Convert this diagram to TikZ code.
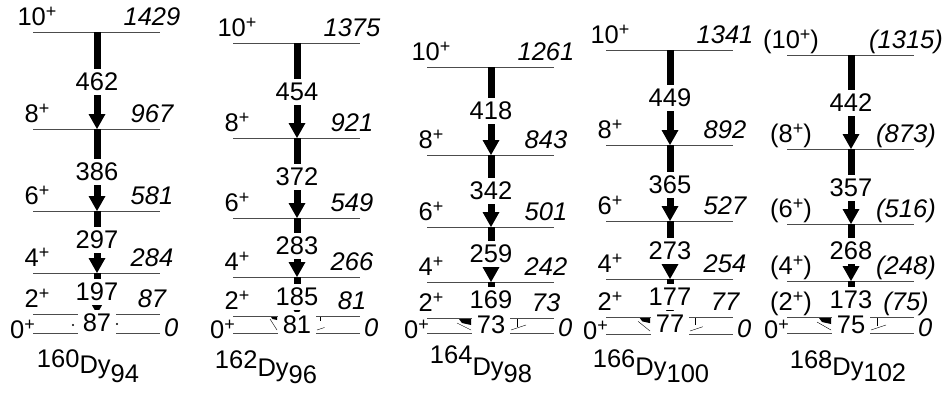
\documentclass[tikz,border=0pt]{standalone}
\usepackage{fontspec}
\setmainfont{Liberation Sans}
\usetikzlibrary{calc}

\newcommand\lblfont{\fontsize{25.5}{30}\selectfont}
% raised plus sign of the parity
\newcommand\plus{\raisebox{7.5pt}{\fontsize{18}{18}\selectfont +}}

% one excited level: id, left end x, y, spin, energy
\newcommand\levelline[5]{%
  \draw[level] (#2,#3) coordinate (#1-l) -- ++(127,0) coordinate (#1-r);
  \coordinate (#1) at (#2+64,#3);
  \node[spin] (#1-s) at (#2+4,#3-7) {#4};
  \node[energy] (#1-e) at (#2+119,#3-7) {#5};}

% ground state: id, left end x, y
\newcommand\groundline[3]{%
  \draw[level] (#2,#3) coordinate (#1-l) -- ++(127,0) coordinate (#1-r);
  \coordinate (#1) at (#2+64,#3);
  \node[spin,anchor=base east] (#1-s) at (#2+2,#3+5) {0\plus};
  \node[energy,anchor=base west] (#1-e) at (#2+131,#3+3) {0};}

% gamma transition between two level coordinates
\newcommand\gtrans[2]{%
  \draw[shaft] (#1) -- ([yshift=14pt]#2);
  \fill[black] ([xshift=-8.5pt,yshift=15pt]#2) -- (#2) -- ([xshift=8.5pt,yshift=15pt]#2) -- cycle;}

% small pieces of the 2+ -> 0+ arrow left outside its label
\newcommand\lowpieces[4]{% centre x, y(2+), y(0+), size
  \fill[black] (#1-20-12*#4,#2+1) -- (#1-20,#2+1) -- (#1-20,#2+1+6*#4) -- (#1-20-9*#4,#2+1+4*#4) -- cycle;
  \draw[thin] (#1-20-14*#4,#2+1+4*#4) -- (#1-20,#3-3);
  \draw[thin] (#1+20+6*#4,#2+1) -- (#1+20+6*#4,#2+1+8*#4);
  \draw[thin] (#1+20,#3-3) -- (#1+20+15*#4,#3-3-5*#4);}

\tikzset{
  every node/.style={font=\lblfont},
  level/.style={draw=black!70, line width=0.9pt},
  shaft/.style={line width=7pt, line cap=butt},
  spin/.style={anchor=base, inner sep=0pt},
  energy/.style={anchor=base, inner sep=0pt, font=\lblfont\itshape},
  tlabel/.style={fill=white, inner xsep=5pt, inner ysep=4pt},
  nucl/.style={anchor=base, inner sep=0pt},
}

\begin{document}
\begin{tikzpicture}[x=1pt,y=-1pt]
\useasboundingbox (0,0) rectangle (950,392);

% ---- 160Dy ----
\levelline{a10}{33}{32}{10\plus}{1429}
\levelline{a8}{33}{129}{8\plus}{967}
\levelline{a6}{33}{211}{6\plus}{581}
\levelline{a4}{33}{273}{4\plus}{284}
\levelline{a2}{33}{314}{2\plus}{87}
\groundline{a0}{33}{333}
\foreach \u/\d in {10/8,8/6,6/4,4/2} {\gtrans{a\u}{a\d}}
\foreach \t/\y in {462/82,386/172,297/240,197/292,87/323}
  {\node[tlabel] (a-\t) at (97,\y) {\t};}
\fill (73,325) circle (1.1pt) (117,324) circle (1.1pt);
\node[nucl] (dy160) at (88,373) {\raisebox{6pt}{160}Dy\raisebox{-9pt}{94}};

% ---- 162Dy ----
\levelline{b10}{233}{43}{10\plus}{1375}
\levelline{b8}{233}{138}{8\plus}{921}
\levelline{b6}{233}{218}{6\plus}{549}
\levelline{b4}{233}{277}{4\plus}{266}
\levelline{b2}{233}{316}{2\plus}{81}
\groundline{b0}{233}{333}
\foreach \u/\d in {10/8,8/6,6/4,4/2} {\gtrans{b\u}{b\d}}
\foreach \t/\y in {454/92,372/177,283/246,185/297,81/325}
  {\node[tlabel] (b-\t) at (297,\y) {\t};}
\lowpieces{297}{316}{333}{0.5}
\node[nucl] (dy162) at (266,376) {\raisebox{8pt}{162}Dy\raisebox{-7pt}{96}};

% ---- 164Dy ----
\levelline{c10}{427}{67}{10\plus}{1261}
\levelline{c8}{427}{155}{8\plus}{843}
\levelline{c6}{427}{227}{6\plus}{501}
\levelline{c4}{427}{282}{4\plus}{242}
\levelline{c2}{427}{318}{2\plus}{73}
\groundline{c0}{427}{333}
\foreach \u/\d in {10/8,8/6,6/4,4/2} {\gtrans{c\u}{c\d}}
\foreach \t/\y in {418/111,342/191,259/254,169/300,73/325}
  {\node[tlabel] (c-\t) at (491,\y) {\t};}
\lowpieces{491}{318}{333}{1}
\node[nucl] (dy164) at (481,375) {\raisebox{12pt}{164}Dy\raisebox{-7pt}{98}};

% ---- 166Dy ----
\levelline{d10}{606}{50}{10\plus}{1341}
\levelline{d8}{606}{145}{8\plus}{892}
\levelline{d6}{606}{221}{6\plus}{527}
\levelline{d4}{606}{279}{4\plus}{254}
\levelline{d2}{606}{317}{2\plus}{77}
\groundline{d0}{606}{334}
\foreach \u/\d in {10/8,8/6,6/4,4/2} {\gtrans{d\u}{d\d}}
\foreach \t/\y in {449/98,365/185,273/251,177/297,77/324}
  {\node[tlabel] (d-\t) at (670,\y) {\t};}
\lowpieces{670}{317}{334}{0.85}
\node[nucl] (dy166) at (651,375) {\raisebox{8pt}{166}Dy\raisebox{-7pt}{100}};

% ---- 168Dy ----
\levelline{e10}{787}{55}{(10\plus)}{(1315)}
\levelline{e8}{787}{149}{(8\plus)}{(873)}
\levelline{e6}{787}{224}{(6\plus)}{(516)}
\levelline{e4}{787}{281}{(4\plus)}{(248)}
\levelline{e2}{787}{317}{(2\plus)}{(75)}
\groundline{e0}{787}{333}
\foreach \u/\d in {10/8,8/6,6/4,4/2} {\gtrans{e\u}{e\d}}
\foreach \t/\y in {442/103,357/188,268/251,173/300,75/325}
  {\node[tlabel] (e-\t) at (851,\y) {\t};}
\lowpieces{851}{317}{333}{1}
\node[nucl] (dy168) at (848,375) {\raisebox{7pt}{168}Dy\raisebox{-6pt}{102}};
\end{tikzpicture}
\end{document}
